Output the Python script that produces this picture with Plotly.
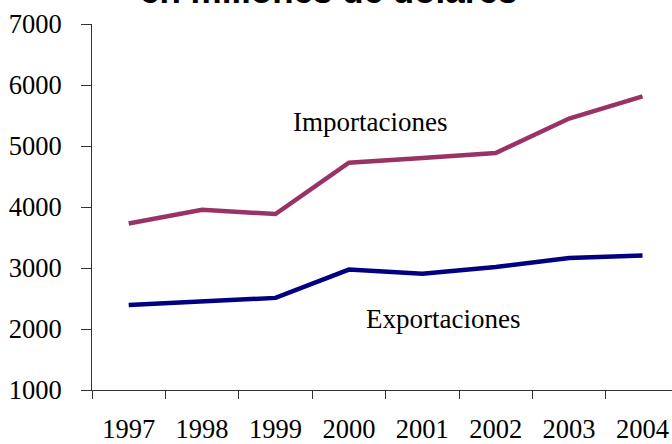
import plotly.graph_objects as go

years = ["1997", "1998", "1999", "2000", "2001", "2002", "2003", "2004"]
importaciones = [3730, 3955, 3885, 4725, 4805, 4885, 5450, 5815]
exportaciones = [2395, 2445, 2510, 2975, 2905, 3015, 3165, 3205]
y_ticks = [1000, 2000, 3000, 4000, 5000, 6000, 7000]

serif = "Liberation Serif, Times New Roman, serif"

fig = go.Figure()
fig.add_trace(go.Scatter(x=years, y=importaciones, mode="lines",
                         line=dict(color="#993366", width=4.5), name="Importaciones"))
fig.add_trace(go.Scatter(x=years, y=exportaciones, mode="lines",
                         line=dict(color="#000080", width=4.5), name="Exportaciones"))

fig.add_annotation(x=3.29, y=5390, xref="x", yref="y", text="Importaciones",
                   showarrow=False, font=dict(family=serif, size=27, color="black"))
fig.add_annotation(x=4.28, y=2165, xref="x", yref="y", text="Exportaciones",
                   showarrow=False, font=dict(family=serif, size=27, color="black"))
fig.add_annotation(x=(328 - 92) / 580, y=1.0, xref="paper", yref="paper",
                   yshift=12, yanchor="bottom",
                   text="<b>en millones de dólares</b>", showarrow=False,
                   font=dict(family="Liberation Sans, Arial, sans-serif", size=35, color="black"))

fig.update_layout(
    width=672, height=444,
    margin=dict(l=92, r=0, t=24, b=54),
    paper_bgcolor="white", plot_bgcolor="white",
    showlegend=False,
    font=dict(family=serif, size=26.5, color="black"),
)
fig.update_xaxes(type="category", range=[-0.5, -0.5 + 580 / 73.4], automargin=False,
                 tickson="boundaries", ticks="outside", ticklen=8, tickwidth=1,
                 tickcolor="#333", showline=True, linecolor="#333", linewidth=1,
                 showgrid=False, zeroline=False, ticklabelstandoff=15,
                 tickfont=dict(family=serif, size=26.5, color="black"))
fig.update_yaxes(range=[1000, 7000], tickvals=y_ticks, ticks="outside", ticklen=10,
                 automargin=False,
                 tickwidth=1, tickcolor="#333", showline=True, linecolor="#333",
                 linewidth=1, showgrid=False, zeroline=False, ticklabelstandoff=14,
                 tickfont=dict(family=serif, size=26.5, color="black"))

fig.write_html("out.html")
